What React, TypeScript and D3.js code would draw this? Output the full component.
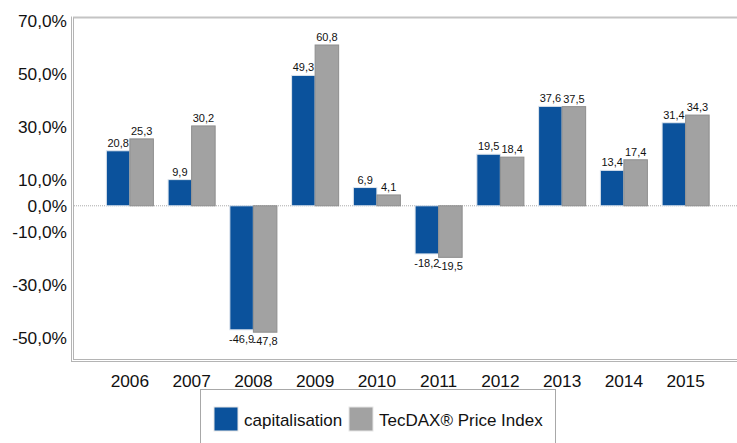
import React, { useEffect, useRef } from 'react'
import * as d3 from 'd3'

const years = ['2006', '2007', '2008', '2009', '2010', '2011', '2012', '2013', '2014', '2015']
const capitalisation = [20.8, 9.9, -46.9, 49.3, 6.9, -18.2, 19.5, 37.6, 13.4, 31.4]
const tecdax = [25.3, 30.2, -47.8, 60.8, 4.1, -19.5, 18.4, 37.5, 17.4, 34.3]
const yTicks = [70, 50, 30, 10, 0, -10, -30, -50]
const seriesNames = ['capitalisation', 'TecDAX® Price Index']
const colors = ['#0b529c', '#a2a2a2']

const fmt = (v: number) => v.toFixed(1).replace('.', ',')

export default function App() {
  const ref = useRef<SVGSVGElement>(null)

  useEffect(() => {
    const svg = d3.select(ref.current)
    svg.selectAll('*').remove()
    const font = '"Liberation Sans", Arial, sans-serif'

    const frameL = 73, frameT = 17.5, frameB = 360.5, frameR = 737

    const y = d3.scaleLinear().domain([-58.5, 71.2]).range([frameB, frameT])
    const x = d3.scaleBand<string>().domain(years).range([99, 716.5]).paddingInner(0.238).paddingOuter(0.119)
    const xs = d3.scaleBand<number>().domain([0, 1]).range([0, x.bandwidth()])

    // frame
    svg.append('line').attr('x1', frameL).attr('x2', frameR).attr('y1', frameT).attr('y2', frameT)
      .attr('stroke', '#c4c4c4').attr('stroke-width', 2)
    svg.append('line').attr('x1', frameL - 1.5).attr('x2', frameL - 1.5).attr('y1', frameT - 1).attr('y2', frameB + 1.5)
      .attr('stroke', '#b4b4b4').attr('stroke-width', 1)
    svg.append('line').attr('x1', frameL + 0.5).attr('x2', frameL + 0.5).attr('y1', frameT).attr('y2', frameB - 0.5)
      .attr('stroke', '#b4b4b4').attr('stroke-width', 1)
    svg.append('line').attr('x1', frameL - 1.5).attr('x2', frameR).attr('y1', frameB + 1).attr('y2', frameB + 1)
      .attr('stroke', '#b4b4b4').attr('stroke-width', 1)
    svg.append('line').attr('x1', frameL + 0.5).attr('x2', frameR).attr('y1', frameB - 1).attr('y2', frameB - 1)
      .attr('stroke', '#b4b4b4').attr('stroke-width', 1)

    // zero line
    svg.append('line').attr('x1', frameL + 1).attr('x2', frameR).attr('y1', y(0)).attr('y2', y(0))
      .attr('stroke', '#aaa').attr('stroke-width', 1).attr('stroke-dasharray', '1,1')

    // y labels
    svg.append('g').selectAll('text').data(yTicks).enter().append('text')
      .attr('x', 67).attr('y', d => y(d)).attr('dy', '0.36em')
      .attr('text-anchor', 'end').attr('font-family', font).attr('font-size', 17.3).attr('fill', '#111')
      .text(d => fmt(d) + '%')

    // x labels
    svg.append('g').selectAll('text').data(years).enter().append('text')
      .attr('x', d => (x(d) as number) + x.bandwidth() / 2).attr('y', 387)
      .attr('text-anchor', 'middle').attr('font-family', font).attr('font-size', 17.3).attr('fill', '#111')
      .text(d => d)

    const series = [capitalisation, tecdax]
    series.forEach((vals, si) => {
      const g = svg.append('g')
      g.selectAll('rect').data(vals).enter().append('rect')
        .attr('x', (d, i) => (x(years[i]) as number) + (xs(si) as number))
        .attr('y', d => y(Math.max(0, d)))
        .attr('width', xs.bandwidth())
        .attr('height', d => Math.abs(y(d) - y(0)))
        .attr('fill', colors[si])
        .attr('stroke', si === 0 ? '#dfe6ee' : '#8e8e8e').attr('stroke-width', 1)
      g.selectAll('text').data(vals).enter().append('text')
        .attr('x', (d, i) => (x(years[i]) as number) + (xs(si) as number) + xs.bandwidth() / 2)
        .attr('y', d => d >= 0 ? y(d) - 4 : y(d) + 13)
        .attr('text-anchor', 'middle').attr('font-family', font).attr('font-size', 11).attr('fill', '#111')
        .text(d => fmt(d))
    })

    // legend
    const lg = svg.append('g')
    lg.append('rect').attr('x', 200.5).attr('y', 389.5).attr('width', 355).attr('height', 60)
      .attr('fill', 'white').attr('stroke', '#a8a8a8').attr('stroke-width', 1)
    const items = [{ x: 214, tx: 244 }, { x: 349, tx: 379 }]
    items.forEach((it, i) => {
      lg.append('rect').attr('x', it.x).attr('y', 407).attr('width', 24).attr('height', 24)
        .attr('fill', colors[i]).attr('stroke', '#e6e6e6').attr('stroke-width', 1)
      lg.append('text').attr('x', it.tx).attr('y', 425.5).attr('font-family', font).attr('font-size', 17)
        .attr('fill', '#111').text(seriesNames[i])
    })
  }, [])

  return (
    <svg ref={ref} width={737} height={443}
      style={{ position: 'absolute', left: 0, top: 0, background: 'white' }} />
  )
}
